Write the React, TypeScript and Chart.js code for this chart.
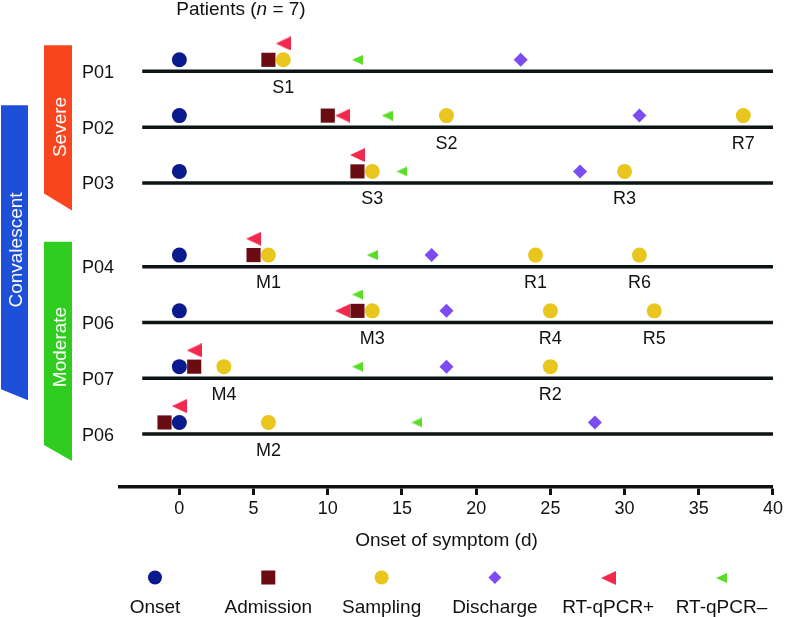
import React, { useEffect, useRef } from 'react';
import { Chart, registerables } from 'chart.js';

Chart.register(...registerables);

const FONT = "'Liberation Sans', Arial, Helvetica, sans-serif";

// ---- data ----
const patients = ['P01', 'P02', 'P03', 'P04', 'P06', 'P07', 'P06'];
const rowPositions = [0, 1, 2, 3.5, 4.5, 5.5, 6.5];
const timelineStart = -2.5;
const timelineEnd = 40;
const onsetDays = [0, 0, 0, 0, 0, 0, 0];
const admissionDays = [6, 10, 12, 5, 12, 1, -1];
const samplingDays = [[7], [18, 38], [13, 30], [6, 24, 31], [13, 25, 32], [3, 25], [6]];
const samplingLabels = [['S1'], ['S2', 'R7'], ['S3', 'R3'], ['M1', 'R1', 'R6'], ['M3', 'R4', 'R5'], ['M4', 'R2'], ['M2']];
const dischargeDays = [23, 31, 27, 17, 18, 18, 28];
const rtPositiveDays = [7, 11, 12, 5, 11, 1, 0];
const rtPositiveRaised = [true, false, true, true, false, true, true];
const rtNegativeDays = [12, 14, 15, 13, 12, 12, 16];
const rtNegativeRaised = [false, false, false, false, true, false, false];
const xTicks = [0, 5, 10, 15, 20, 25, 30, 35, 40];
const legendLabels = ['Onset', 'Admission', 'Sampling', 'Discharge', 'RT-qPCR+', 'RT-qPCR–'];
const xTitle = 'Onset of symptom (d)';

// ---- styles ----
const COLORS = {
  onset: '#0b1a8c',
  admission: '#6b0b12',
  sampling: '#e9c61e',
  discharge: '#7a4cf2',
  rtPositive: '#f3284c',
  rtNegative: '#57de24',
  severe: '#f9461f',
  moderate: '#30cc20',
  convalescent: '#1d4fd8',
  line: '#0c1515',
};
const LIFT_MAIN = 0.207;
const LIFT_RAISED = 0.5;

function makeTriangle(w: number, h: number, color: string) {
  const c = document.createElement('canvas');
  c.width = w;
  c.height = h;
  const g = c.getContext('2d')!;
  g.fillStyle = color;
  g.beginPath();
  g.moveTo(0, h / 2);
  g.lineTo(w, 0);
  g.lineTo(w, h);
  g.closePath();
  g.fill();
  return c;
}

function drawShape(ctx: CanvasRenderingContext2D, kind: number, x: number, y: number, tri: any[]) {
  ctx.save();
  if (kind === 0 || kind === 2) {
    ctx.fillStyle = kind === 0 ? COLORS.onset : COLORS.sampling;
    ctx.beginPath();
    ctx.arc(x, y, 7, 0, Math.PI * 2);
    ctx.fill();
  } else if (kind === 1) {
    ctx.fillStyle = COLORS.admission;
    ctx.fillRect(x - 7, y - 7, 14, 14);
  } else if (kind === 3) {
    ctx.fillStyle = COLORS.discharge;
    ctx.beginPath();
    ctx.moveTo(x - 6.5, y);
    ctx.lineTo(x, y - 6.5);
    ctx.lineTo(x + 6.5, y);
    ctx.lineTo(x, y + 6.5);
    ctx.closePath();
    ctx.fill();
  } else {
    const img = tri[kind - 4];
    ctx.drawImage(img, Math.round(x - img.width / 2), Math.round(y - img.height / 2));
  }
  ctx.restore();
}

export default function App() {
  const ref = useRef<HTMLCanvasElement>(null);

  useEffect(() => {
    if (!ref.current) return;
    const triPos = makeTriangle(15, 14, COLORS.rtPositive);
    const triNeg = makeTriangle(11, 10, COLORS.rtNegative);
    const lift = (raised: boolean) => (raised ? LIFT_RAISED : LIFT_MAIN);

    const onsetPts = onsetDays.map((d, i) => ({ x: d, y: rowPositions[i] - LIFT_MAIN }));
    const admissionPts = admissionDays.map((d, i) => ({ x: d, y: rowPositions[i] - LIFT_MAIN }));
    const samplingPts = samplingDays.flatMap((days, i) => days.map((d) => ({ x: d, y: rowPositions[i] - LIFT_MAIN })));
    const dischargePts = dischargeDays.map((d, i) => ({ x: d, y: rowPositions[i] - LIFT_MAIN }));
    const rtPosPts = rtPositiveDays.map((d, i) => ({ x: d, y: rowPositions[i] - lift(rtPositiveRaised[i]) }));
    const rtNegPts = rtNegativeDays.map((d, i) => ({ x: d, y: rowPositions[i] - lift(rtNegativeRaised[i]) }));

    const lineSets = rowPositions.map((r) => ({
      label: 'row',
      data: [{ x: timelineStart, y: r }, { x: timelineEnd, y: r }],
      showLine: true,
      borderColor: COLORS.line,
      borderWidth: 3.5,
      pointRadius: 0,
      borderCapStyle: 'butt',
      order: 20,
    }));

    const decor = {
      id: 'decor',
      afterDraw(chart: any) {
        const ctx: CanvasRenderingContext2D = chart.ctx;
        const xs = chart.scales.x;
        const ys = chart.scales.y;
        const rp = (i: number) => ys.getPixelForValue(rowPositions[i]);
        ctx.save();

        // banners
        const banner = (x0: number, x1: number, top: number, bl: number, br: number, color: string, text: string, cy: number, base: number) => {
          ctx.fillStyle = color;
          ctx.beginPath();
          ctx.moveTo(x0, top);
          ctx.lineTo(x1, top);
          ctx.lineTo(x1, br);
          ctx.lineTo(x0, bl);
          ctx.closePath();
          ctx.fill();
          ctx.save();
          ctx.translate(base, cy);
          ctx.rotate(-Math.PI / 2);
          ctx.fillStyle = '#ffffff';
          ctx.font = `19px ${FONT}`;
          ctx.textAlign = 'center';
          ctx.textBaseline = 'alphabetic';
          ctx.fillText(text, 0, 0);
          ctx.restore();
        };
        banner(1, 28, rp(1) - 22, rp(5) + 11, rp(5) + 22, COLORS.convalescent, 'Convalescent', 250, 21.5);
        banner(44, 72, rp(0) - 26, rp(2) + 10.5, rp(2) + 27.5, COLORS.severe, 'Severe', 127, 65.5);
        banner(44, 72, rp(3) - 25, rp(6) + 11, rp(6) + 27, COLORS.moderate, 'Moderate', 347, 65.5);

        // row labels
        ctx.fillStyle = '#111';
        ctx.font = `18px ${FONT}`;
        ctx.textAlign = 'center';
        ctx.textBaseline = 'alphabetic';
        patients.forEach((p, i) => ctx.fillText(p, 98, rp(i) + 6.5));

        // sampling labels
        samplingDays.forEach((days, i) => {
          days.forEach((d, j) => {
            ctx.fillText(samplingLabels[i][j], xs.getPixelForValue(d), rp(i) + 21.5);
          });
        });

        // title
        ctx.font = `19px ${FONT}`;
        ctx.textAlign = 'left';
        const a = 'Patients (';
        const b = 'n';
        const c = ' = 7)';
        const wa = ctx.measureText(a).width;
        const wc = ctx.measureText(c).width;
        ctx.font = `italic 19px ${FONT}`;
        const wb = ctx.measureText(b).width;
        const total = wa + wb + wc;
        let tx = 241 - total / 2;
        ctx.font = `19px ${FONT}`;
        ctx.fillText(a, tx, 15);
        tx += wa;
        ctx.font = `italic 19px ${FONT}`;
        ctx.fillText(b, tx, 15);
        tx += wb;
        ctx.font = `19px ${FONT}`;
        ctx.fillText(c, tx, 15);

        // legend
        ctx.textAlign = 'center';
        ctx.font = `19px ${FONT}`;
        legendLabels.forEach((lab, k) => {
          const lx = 155 + k * 113.3;
          drawShape(ctx, k, lx, 577.5, [triPos, triNeg]);
          ctx.fillStyle = '#111';
          ctx.fillText(lab, lx, 613);
        });
        ctx.restore();
      },
    };

    const chart = new Chart(ref.current, {
      type: 'scatter',
      data: {
        datasets: [
          ...lineSets,
          { label: 'Onset', data: onsetPts, pointStyle: 'circle', pointRadius: 7.5, backgroundColor: COLORS.onset, borderWidth: 0, order: 6 },
          { label: 'Sampling', data: samplingPts, pointStyle: 'circle', pointRadius: 7.5, backgroundColor: COLORS.sampling, borderWidth: 0, order: 5 },
          { label: 'Admission', data: admissionPts, pointStyle: 'rect', pointRadius: 10, backgroundColor: COLORS.admission, borderWidth: 0, order: 4 },
          { label: 'Discharge', data: dischargePts, pointStyle: 'rectRot', pointRadius: 7, backgroundColor: COLORS.discharge, borderWidth: 0, order: 3 },
          { label: 'RT-qPCR+', data: rtPosPts, pointStyle: triPos, order: 2 },
          { label: 'RT-qPCR–', data: rtNegPts, pointStyle: triNeg, order: 1 },
        ] as any,
      },
      options: {
        animation: false,
        responsive: false,
        events: [],
        layout: { padding: { top: 4, left: 120, right: 13, bottom: 0 } },
        plugins: { legend: { display: false }, tooltip: { enabled: false }, title: { display: false } },
        scales: {
          x: {
            type: 'linear',
            min: -4,
            max: 40,
            position: 'bottom',
            afterBuildTicks: (s: any) => {
              s.ticks = xTicks.map((v) => ({ value: v }));
            },
            afterFit: (s: any) => {
              s.height = 130;
            },
            grid: { drawOnChartArea: false, drawTicks: true, tickLength: 8, tickWidth: 3, tickColor: '#111' },
            border: { display: true, color: '#111', width: 3.5 },
            ticks: { font: { size: 18, family: FONT }, color: '#111', padding: 3, maxRotation: 0, autoSkip: false },
            title: { display: true, text: xTitle, font: { size: 19, family: FONT }, color: '#111', padding: { top: 0, bottom: 65 } },
          },
          y: {
            type: 'linear',
            reverse: true,
            min: -1.1,
            max: 7.45,
            display: false,
          },
        },
      } as any,
      plugins: [decor],
    });
    return () => chart.destroy();
  }, []);

  return (
    <div style={{ position: 'fixed', left: 0, top: 0, width: 786, height: 617, background: '#fff' }}>
      <canvas ref={ref} width={786} height={617} style={{ display: 'block' }} />
    </div>
  );
}
